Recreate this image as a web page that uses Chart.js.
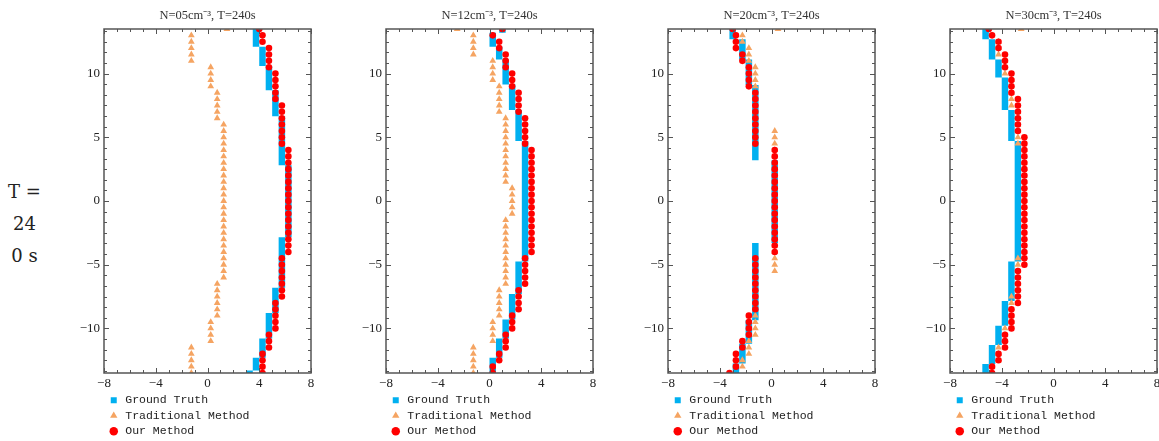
<!DOCTYPE html>
<html>
<head>
<meta charset="utf-8">
<script src="https://cdn.jsdelivr.net/npm/chart.js@4.4.1/dist/chart.umd.min.js"></script>
<style>
html, body { margin:0; padding:0; background:#fff; overflow:hidden; width:1159px; height:441px; }
.panel { position:absolute; top:0; }
#side { position:absolute; left:4px; top:176px; width:41px; text-align:center; font-family:'DejaVu Serif'; font-size:18px; line-height:32px; color:#222; }
</style>
</head>
<body>
<div id="side">T =<br>24<br>0 s</div>
<canvas class="panel" id="c0" width="290" height="447" style="left:29px"></canvas>
<canvas class="panel" id="c1" width="290" height="447" style="left:311px"></canvas>
<canvas class="panel" id="c2" width="290" height="447" style="left:593px"></canvas>
<canvas class="panel" id="c3" width="290" height="447" style="left:875px"></canvas>
<script>
// rows of the grid (y), shared by every panel
var yLevels = [13.5, 13, 12.5, 12, 11.5, 11, 10.5, 10, 9.5, 9, 8.5, 8, 7.5, 7, 6.5, 6, 5.5, 5, 4.5, 4,
  3.5, 3, 2.5, 2, 1.5, 1, 0.5, 0, -0.5, -1, -1.5, -2, -2.5, -3, -3.5, -4, -4.5, -5, -5.5, -6,
  -6.5, -7, -7.5, -8, -8.5, -9, -9.5, -10, -10.5, -11, -11.5, -12, -12.5, -13, -13.5];
var xTicks = [-8, -4, 0, 4, 8];
var yTicks = [-10, -5, 0, 5, 10];
var titles = ['N=05cm\u207B\u00B3, T=240s', 'N=12cm\u207B\u00B3, T=240s', 'N=20cm\u207B\u00B3, T=240s', 'N=30cm\u207B\u00B3, T=240s'];
var seriesNames = ['Ground Truth', 'Traditional Method', 'Our Method'];

// ground truth: [x, yTop, yBottom] steps
var gt05 = [[3.75, 13.5, 12.1], [4.25, 12.1, 10.6], [4.75, 10.6, 8.7], [5.25, 8.7, 6.65], [5.75, 6.65, 2.8],
  [6.25, 2.8, -2.85], [5.75, -2.85, -6.8], [5.25, -6.8, -8.8], [4.75, -8.8, -10.8], [4.25, -10.8, -12.3],
  [3.75, -12.3, -13.3], [3.25, -13.3, -13.5]];
var gt12 = [[1.0, 13.5, 13.2], [0.25, 13.2, 12.1], [0.75, 12.1, 11.1], [1.25, 11.1, 9.15], [1.75, 9.15, 7.15],
  [2.25, 7.15, 4.7], [2.75, 4.7, -4.75], [2.25, -4.75, -7.3], [1.75, -7.3, -9.3], [1.25, -9.3, -10.8],
  [0.75, -10.8, -12.3], [0.25, -12.3, -13.5]];
var gt20 = [[-3.0, 13.5, 12.7], [-2.25, 12.7, 11.1], [-1.75, 11.1, 9.1], [-1.25, 9.1, 3.2], [0.25, 3.2, -3.3],
  [-1.25, -3.3, -9.35], [-1.75, -9.35, -11.2], [-2.25, -11.2, -12.75], [-2.75, -12.75, -13.5]];
var gt30 = [[-5.25, 13.5, 12.7], [-4.75, 12.7, 11.1], [-4.25, 11.1, 9.7], [-3.75, 9.7, 7.15], [-3.25, 7.15, 4.7],
  [-2.75, 4.7, -4.75], [-3.25, -4.75, -7.85], [-3.75, -7.85, -9.8], [-4.25, -9.8, -11.3], [-4.75, -11.3, -12.8],
  [-5.25, -12.8, -13.5]];

// x position of each method for every row of yLevels
var trad05 = [1.5,
  -1.25, -1.25, -1.25, -1.25, -1.25,
  0.25, 0.25, 0.25, 0.25,
  0.75, 0.75, 0.75, 0.75, 0.75,
  1.25, 1.25, 1.25, 1.25, 1.25,
  1.25, 1.25, 1.25, 1.25, 1.25,
  1.25, 1.25, 1.25, 1.25, 1.25,
  1.25, 1.25, 1.25, 1.25, 1.25,
  1.25, 1.25, 1.25, 1.25, 1.25,
  0.75, 0.75, 0.75, 0.75, 0.75, 0.75,
  0.25, 0.25, 0.25, 0.25,
  -1.25, -1.25, -1.25, -1.25, -1.25];
var ours05 = [4,
  4.25, 4.25,
  4.75, 4.75, 4.75, 4.75,
  5.25, 5.25, 5.25, 5.25, 5.25,
  5.75, 5.75, 5.75, 5.75, 5.75, 5.75, 5.75,
  6.25, 6.25, 6.25, 6.25, 6.25, 6.25, 6.25, 6.25, 6.25, 6.25,
  6.25, 6.25, 6.25, 6.25, 6.25, 6.25, 6.25,
  5.75, 5.75, 5.75, 5.75, 5.75, 5.75, 5.75,
  5.25, 5.25, 5.25, 5.25, 5.25,
  4.75, 4.75, 4.75,
  4.25, 4.25, 4.25, 4.25];
var trad12 = [-2.5,
  -1.25, -1.25, -1.25, -1.25,
  0.25, 0.25, 0.25, 0.25,
  0.75, 0.75, 0.75, 0.75, 0.75,
  1.25, 1.25, 1.25, 1.25, 1.25, 1.25, 1.25, 1.25, 1.25, 1.25, 1.25,
  1.75, 1.75, 1.75, 1.75, 1.75,
  1.25, 1.25, 1.25, 1.25, 1.25, 1.25, 1.25, 1.25, 1.25, 1.25, 1.25,
  0.75, 0.75, 0.75, 0.75, 0.75,
  0.25, 0.25, 0.25, 0.25,
  -1.25, -1.25, -1.25, -1.25, -1.25];
var ours12 = [1,
  0.25,
  0.75, 0.75,
  1.25, 1.25, 1.25,
  1.75, 1.75, 1.75,
  2.25, 2.25, 2.25, 2.25,
  2.75, 2.75, 2.75, 2.75, 2.75,
  3.25, 3.25, 3.25, 3.25, 3.25, 3.25, 3.25, 3.25, 3.25, 3.25,
  3.25, 3.25, 3.25, 3.25, 3.25, 3.25, 3.25,
  2.75, 2.75, 2.75, 2.75, 2.75,
  2.25, 2.25, 2.25, 2.25,
  1.75, 1.75, 1.75,
  1.25, 1.25, 1.25,
  0.75, 0.75,
  0.25, 0.25];
var trad20 = [0.5,
  -2.25, -2.25,
  -1.75, -1.75, -1.75,
  -1.25, -1.25, -1.25, -1.25, -1.25, -1.25, -1.25, -1.25, -1.25, -1.25,
  0.25, 0.25, 0.25, 0.25, 0.25, 0.25, 0.25, 0.25, 0.25, 0.25,
  0.25, 0.25, 0.25, 0.25, 0.25, 0.25, 0.25, 0.25, 0.25, 0.25,
  0.25, 0.25, 0.25,
  -1.25, -1.25, -1.25, -1.25, -1.25, -1.25, -1.25, -1.25, -1.25, -1.25,
  -1.75, -1.75, -1.75,
  -2.25, -2.25,
  null];
var ours20 = [-3,
  -2.75, -2.75, -2.75,
  -2.25, -2.25,
  -1.75, -1.75, -1.75, -1.75,
  -1.25, -1.25, -1.25, -1.25, -1.25, -1.25, -1.25, -1.25, -1.25,
  0.25, 0.25, 0.25, 0.25, 0.25, 0.25, 0.25, 0.25, 0.25, 0.25,
  0.25, 0.25, 0.25, 0.25, 0.25, 0.25, 0.25,
  -1.25, -1.25, -1.25, -1.25, -1.25, -1.25, -1.25, -1.25, -1.25,
  -1.75, -1.75, -1.75, -1.75,
  -2.25, -2.25,
  -2.75, -2.75, -2.75,
  -3.25];
var trad30 = [-2.5,
  -4.75,
  -4.25, -4.25, -4.25,
  -3.75, -3.75, -3.75,
  -3.25, -3.25, -3.25, -3.25, -3.25,
  -2.75, -2.75, -2.75, -2.75, -2.75, -2.75,
  -2.25, -2.25, -2.25, -2.25, -2.25, -2.25, -2.25, -2.25, -2.25, -2.25,
  -2.25, -2.25, -2.25, -2.25, -2.25, -2.25, -2.25,
  -2.75, -2.75, -2.75, -2.75, -2.75, -2.75,
  -3.25, -3.25, -3.25, -3.25, -3.25,
  -3.75, -3.75, -3.75,
  -4.25, -4.25, -4.25,
  -4.75, -4.75];
var ours30 = [-5,
  -4.75,
  -4.25, -4.25,
  -3.75, -3.75, -3.75,
  -3.25, -3.25, -3.25, -3.25,
  -2.75, -2.75, -2.75, -2.75, -2.75, -2.75,
  -2.25, -2.25, -2.25, -2.25, -2.25, -2.25, -2.25, -2.25, -2.25, -2.25,
  -2.25, -2.25, -2.25, -2.25, -2.25, -2.25, -2.25, -2.25, -2.25, -2.25, -2.25,
  -2.75, -2.75, -2.75, -2.75, -2.75, -2.75,
  -3.25, -3.25, -3.25, -3.25,
  -3.75, -3.75, -3.75,
  -4.25, -4.25,
  -4.75, -4.75];

var gtList = [gt05, gt12, gt20, gt30];
var tradList = [trad05, trad12, trad20, trad30];
var oursList = [ours05, ours12, ours20, ours30];

var cyan = '#00b0f0', orange = '#f5a462', red = '#ff0000';

function rowPoints(xs) {
  var pts = [];
  yLevels.forEach(function(y, i) {
    if (xs[i] !== null && xs[i] !== undefined) pts.push({x: xs[i], y: y});
  });
  return pts;
}
function stepPoints(segs) {
  var pts = [];
  segs.forEach(function(s) {
    pts.push({x: s[0], y: s[1]}, {x: s[0], y: s[2]}, {x: s[0], y: null});
  });
  return pts;
}
function fmt(v) {
  return v < 0 ? '\u2212' + (-v) : '' + v;
}

// box round the plot with ticks pointing inwards on all four sides
var framePlugin = {
  id: 'frame',
  afterDatasetsDraw: function(chart) {
    var ctx = chart.ctx, a = chart.chartArea, sx = chart.scales.x, sy = chart.scales.y;
    ctx.save();
    ctx.strokeStyle = '#555';
    ctx.lineWidth = 1;
    ctx.beginPath();
    for (var v = -8; v <= 8; v++) {
      var px = Math.round(sx.getPixelForValue(v)) + 0.5;
      var len = xTicks.indexOf(v) >= 0 ? 5 : 3;
      ctx.moveTo(px, a.bottom); ctx.lineTo(px, a.bottom - len);
      ctx.moveTo(px, a.top); ctx.lineTo(px, a.top + len);
    }
    for (var k = -16; k <= 16; k++) {
      var val = k * 5 / 6;
      if (val < sy.min || val > sy.max) continue;
      var py = Math.round(sy.getPixelForValue(val)) + 0.5;
      var len2 = k % 6 === 0 ? 5 : 3;
      ctx.moveTo(a.left, py); ctx.lineTo(a.left + len2, py);
      ctx.moveTo(a.right, py); ctx.lineTo(a.right - len2, py);
    }
    ctx.stroke();
    ctx.lineWidth = 1.5;
    ctx.strokeRect(a.left, a.top, a.right - a.left, a.bottom - a.top);
    ctx.restore();
  }
};

for (var i = 0; i < 4; i++) {
  new Chart(document.getElementById('c' + i), {
    type: 'scatter',
    data: {
      datasets: [
        { label: seriesNames[0], data: stepPoints(gtList[i]), showLine: true, borderColor: cyan, backgroundColor: cyan,
          borderWidth: 6.5, pointRadius: 0, pointStyle: 'rect', pointBorderWidth: 0, order: 3, clip: 0 },
        { label: seriesNames[1], data: rowPoints(tradList[i]), pointStyle: 'triangle', pointRadius: 3.9,
          backgroundColor: orange, borderColor: orange, pointBorderWidth: 0, order: 2, clip: 0 },
        { label: seriesNames[2], data: rowPoints(oursList[i]), pointStyle: 'circle', pointRadius: 3.3,
          backgroundColor: red, borderColor: red, pointBorderWidth: 0, order: 1, clip: 0 }
      ]
    },
    options: {
      animation: false,
      responsive: false,
      devicePixelRatio: 1,
      events: [],
      layout: { padding: { left: 0, right: 8, top: 0, bottom: 0 } },
      scales: {
        x: {
          type: 'linear', min: -8, max: 8,
          afterBuildTicks: function(s) { s.ticks = xTicks.map(function(v) { return {value: v}; }); },
          afterFit: function(s) { s.height = 17.5; },
          grid: { display: false, drawTicks: false },
          border: { display: false },
          ticks: { padding: 3, autoSkip: false, maxRotation: 0, color: '#222',
                   font: { family: 'Liberation Serif', size: 13 }, callback: fmt }
        },
        y: {
          type: 'linear', min: -13.5, max: 13.5,
          afterBuildTicks: function(s) { s.ticks = yTicks.map(function(v) { return {value: v}; }); },
          afterFit: function(s) { s.width = 75; },
          grid: { display: false, drawTicks: false },
          border: { display: false },
          ticks: { padding: 4, autoSkip: false, color: '#222',
                   font: { family: 'Liberation Serif', size: 13 }, callback: fmt }
        }
      },
      plugins: {
        title: { display: true, text: titles[i], fullSize: false, color: '#333',
                 font: { family: 'Liberation Serif', size: 12.5, weight: 'normal' },
                 padding: { top: 8.6, bottom: 5.4 } },
        legend: {
          position: 'bottom', align: 'start', fullSize: false,
          labels: { usePointStyle: true, boxWidth: 11.5, boxHeight: 6, padding: 4, color: '#222',
                    font: { family: 'Liberation Mono', size: 11.5 },
                    sort: function(a, b) { return a.datasetIndex - b.datasetIndex; } }
        },
        tooltip: { enabled: false }
      }
    },
    plugins: [framePlugin]
  });
}
</script>
</body>
</html>
